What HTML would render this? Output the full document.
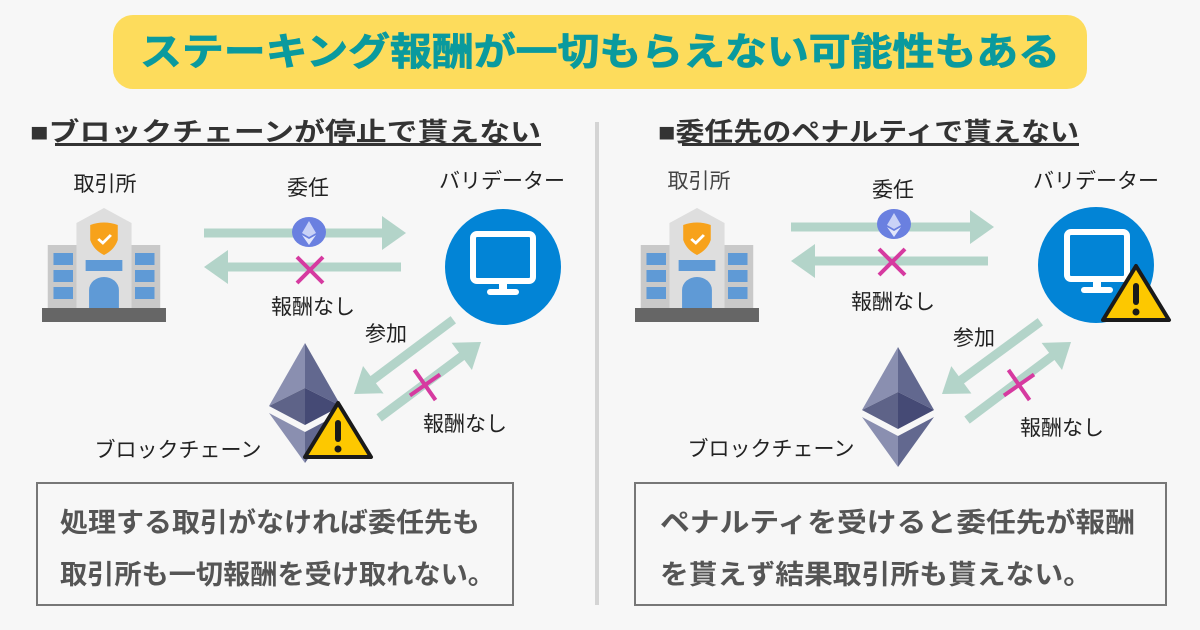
<!DOCTYPE html>
<html><head><meta charset="utf-8"><style>
html,body{margin:0;padding:0;background:#f7f7f7;}
svg{display:block;}
text{font-family:"Liberation Sans","Noto Sans CJK JP",sans-serif;}
</style></head><body>
<svg width="1200" height="630" viewBox="0 0 1200 630" xmlns="http://www.w3.org/2000/svg">
<defs>
<g id="bld">
  <rect x="5" y="37" width="98" height="65" fill="#c9c9c9"/>
  <polygon points="30,15 54,0 78,15 78,102 30,102" fill="#dedede"/>
  <rect x="0" y="100" width="108" height="14" fill="#666"/>
  <g fill="#5f9ad6">
    <rect x="10" y="45" width="17" height="12"/><rect x="10" y="62" width="17" height="12"/><rect x="10" y="79" width="17" height="12"/>
    <rect x="81" y="45" width="17" height="12"/><rect x="81" y="62" width="17" height="12"/><rect x="81" y="79" width="17" height="12"/>
    <rect x="38" y="52" width="32" height="11"/>
    <path d="M41 100 V82 A13 13 0 0 1 67 82 V100 Z"/>
  </g>
  <path d="M42 17 Q54 12 66 17 V32 Q63 42 54 47 Q45 42 42 32 Z" fill="#f7a21b"/>
  <path d="M49 31 L53 35 L60 27" stroke="#fff" stroke-width="2.5" fill="none"/>
</g>
<g id="coin">
  <ellipse rx="17" ry="15" fill="#6a80e0"/>
  <polygon points="0,-11 -7,1 0,5 7,1" fill="#c9d2f7"/>
  <polygon points="0,7 -7,3 0,13 7,3" fill="#e2e7fb"/>
</g>
<g id="mon">
  <rect x="-30" y="-31" width="60" height="47" rx="4" fill="none" stroke="#fff" stroke-width="6"/>
  <rect x="-4" y="16" width="8" height="10" fill="#fff"/>
  <rect x="-16" y="24" width="32" height="6" rx="3" fill="#fff"/>
</g>
<g id="warn">
  <path d="M35 3 L68 57 L2 57 Z" fill="#fdc800" stroke="#1a1a1a" stroke-width="4" stroke-linejoin="round"/>
  <rect x="32" y="20" width="6" height="22" rx="3" fill="#1a1a1a"/>
  <circle cx="35" cy="49" r="3.5" fill="#1a1a1a"/>
</g>
<g id="eth">
  <polygon points="0,0 -36,63 0,45" fill="#8a8fb0"/>
  <polygon points="0,0 36,63 0,45" fill="#62688f"/>
  <polygon points="-36,63 0,45 0,82" fill="#5e6388"/>
  <polygon points="36,63 0,45 0,82" fill="#454a75"/>
  <polygon points="-36,70 0,89 0,120" fill="#8a8fb0"/>
  <polygon points="36,70 0,89 0,120" fill="#62688f"/>
</g>
<g id="xm"><path d="M-13,-13 L13,13 M13,-13 L-13,13" stroke="#d63aa0" stroke-width="4"/></g>
</defs>

<rect x="113" y="15" width="974" height="74" rx="20" fill="#fddc5c"/>
<text x="600" y="65" text-anchor="middle" font-size="38" font-weight="bold" fill="#0a9a9e" stroke="#0a9a9e" stroke-width="0.8" textLength="920" lengthAdjust="spacingAndGlyphs">ステーキング報酬が一切もらえない可能性もある</text>

<rect x="595" y="122" width="4" height="483" fill="#d4d4d4"/>

<text x="30" y="141" font-size="26" font-weight="bold" fill="#333" textLength="511" lengthAdjust="spacingAndGlyphs">■ブロックチェーンが停止で貰えない</text>
<rect x="55" y="143" width="486" height="3" fill="#333"/>
<text x="658" y="141" font-size="26" font-weight="bold" fill="#333" textLength="421" lengthAdjust="spacingAndGlyphs">■委任先のペナルティで貰えない</text>
<rect x="682" y="143" width="397" height="3" fill="#333"/>

<g fill="#b3d4c9">
<g transform="translate(406,233)"><rect x="-202" y="-4.5" width="180" height="9"/><polygon points="0,0 -24,-17 -24,17"/></g>
<g transform="translate(204,267) rotate(180)"><rect x="-197" y="-4.5" width="175" height="9"/><polygon points="0,0 -24,-17 -24,17"/></g>
<g transform="translate(354,394) rotate(143.2)"><rect x="-124" y="-4.5" width="102" height="9"/><polygon points="0,0 -24,-17 -24,17"/></g>
<g transform="translate(481,342) rotate(-36.7)"><rect x="-127" y="-4.5" width="105" height="9"/><polygon points="0,0 -24,-17 -24,17"/></g>
<g transform="translate(994,227)"><rect x="-203" y="-4.5" width="181" height="9"/><polygon points="0,0 -24,-17 -24,17"/></g>
<g transform="translate(791,261) rotate(180)"><rect x="-197" y="-4.5" width="175" height="9"/><polygon points="0,0 -24,-17 -24,17"/></g>
<g transform="translate(942,394) rotate(143.7)"><rect x="-122" y="-4.5" width="100" height="9"/><polygon points="0,0 -24,-17 -24,17"/></g>
<g transform="translate(1071,342) rotate(-36.9)"><rect x="-130" y="-4.5" width="108" height="9"/><polygon points="0,0 -24,-17 -24,17"/></g>
</g>

<!-- left panel -->
<use href="#bld" transform="translate(42,208) scale(1.148,1)"/>
<use href="#coin" x="309" y="232"/>
<use href="#xm" x="310" y="270"/>
<use href="#xm" transform="translate(425,385) rotate(10)"/>
<circle cx="503" cy="267" r="58" fill="#0284d6"/>
<use href="#mon" x="503" y="265"/>
<use href="#eth" x="305" y="343"/>
<use href="#warn" x="303" y="400"/>
<g font-size="21" fill="#222" text-anchor="middle">
<text x="105" y="191">取引所</text>
<text x="308" y="195">委任</text>
<text x="502" y="188">バリデーター</text>
<text x="313" y="314">報酬なし</text>
<text x="386" y="341">参加</text>
<text x="465" y="431">報酬なし</text>
<text x="178" y="457">ブロックチェーン</text>
</g>
<rect x="37" y="483" width="476" height="122" fill="none" stroke="#777" stroke-width="2"/>
<g font-size="27" font-weight="bold" fill="#555">
<text x="60" y="532" textLength="420" lengthAdjust="spacingAndGlyphs">処理する取引がなければ委任先も</text>
<text x="60" y="584" textLength="435" lengthAdjust="spacingAndGlyphs">取引所も一切報酬を受け取れない。</text>
</g>

<!-- right panel -->
<use href="#bld" transform="translate(635,208) scale(1.148,1)"/>
<use href="#coin" x="894" y="224"/>
<use href="#xm" x="892" y="262"/>
<use href="#xm" transform="translate(1019,385) rotate(10)"/>
<circle cx="1096" cy="265" r="58" fill="#0284d6"/>
<use href="#mon" x="1097" y="263"/>
<use href="#warn" x="1101" y="263"/>
<use href="#eth" x="898" y="347"/>
<g font-size="21" fill="#222" text-anchor="middle">
<text x="699" y="188" fill="#444">取引所</text>
<text x="893" y="197">委任</text>
<text x="1096" y="188">バリデーター</text>
<text x="893" y="309">報酬なし</text>
<text x="974" y="345">参加</text>
<text x="1062" y="435">報酬なし</text>
<text x="771" y="456">ブロックチェーン</text>
</g>
<rect x="635" y="483" width="531" height="122" fill="none" stroke="#777" stroke-width="2"/>
<g font-size="27" font-weight="bold" fill="#555">
<text x="660" y="532" textLength="475" lengthAdjust="spacingAndGlyphs">ペナルティを受けると委任先が報酬</text>
<text x="660" y="584" textLength="432" lengthAdjust="spacingAndGlyphs">を貰えず結果取引所も貰えない。</text>
</g>
</svg>
</body></html>
